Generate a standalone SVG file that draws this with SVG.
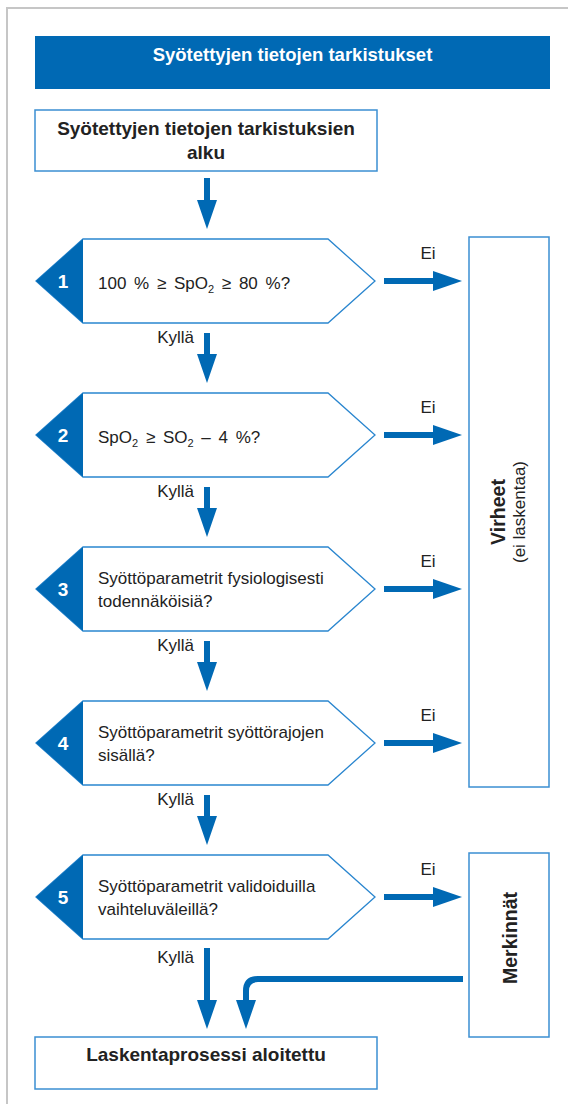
<svg xmlns="http://www.w3.org/2000/svg" width="568" height="1104" viewBox="0 0 568 1104">
<defs>
<style>
.frame{fill:none;stroke:#c6c6c6;stroke-width:2}
.box{fill:#fff;stroke:#3b8fd2;stroke-width:1.5}
.hex{fill:#fff;stroke:#2a86cf;stroke-width:1.3}
.tri{fill:#0069b4}
.t{font-family:"Liberation Sans",Arial,sans-serif;fill:#222}
.q{font-size:17px}
.ws{word-spacing:3px}
.b{font-weight:bold}
.num{font-family:"Liberation Sans",Arial,sans-serif;font-weight:bold;font-size:19px;fill:#fff;text-anchor:middle}
.lbl{font-family:"Liberation Sans",Arial,sans-serif;font-size:17px;fill:#222}
.conn{fill:none;stroke:#0069b4;stroke-width:6}
</style>
<marker id="ah" markerUnits="userSpaceOnUse" markerWidth="29" markerHeight="20" viewBox="0 0 29 20" refX="0" refY="10" orient="auto">
<path d="M0,0 L29,10 L0,20 Z" fill="#0069b4"/>
</marker>
</defs>
<rect width="568" height="1104" fill="#fff"/>
<path class="frame" d="M7,1104 V8 H568"/>

<g id="title">
<rect x="35" y="36" width="515" height="53" fill="#0069b4"/>
<text class="t b" x="292.5" y="61" font-size="18.5" style="fill:#fff" text-anchor="middle">Syötettyjen tietojen tarkistukset</text>
</g>

<g id="start">
<rect class="box" x="35" y="110" width="342" height="61"/>
<text class="t b" x="206" y="135" font-size="19" text-anchor="middle">Syötettyjen tietojen tarkistuksien</text>
<text class="t b" x="206" y="159" font-size="19" text-anchor="middle">alku</text>
</g>

<g id="check1">
<path class="hex" d="M36,281 L83,239 L328,239 L375,281 L328,323 L83,323 Z"/>
<path class="tri" d="M36,281 L83,239 L83,323 Z"/>
<text class="num" x="63" y="288">1</text>
<text class="t q ws" x="98" y="289">100 % ≥ SpO<tspan font-size="11" dy="4">2</tspan><tspan dy="-4"> ≥ 80 %?</tspan></text>
</g>

<g id="check2">
<path class="hex" d="M36,435 L83,393 L328,393 L375,435 L328,477 L83,477 Z"/>
<path class="tri" d="M36,435 L83,393 L83,477 Z"/>
<text class="num" x="63" y="442">2</text>
<text class="t q ws" x="98" y="443">SpO<tspan font-size="11" dy="4">2</tspan><tspan dy="-4"> ≥ SO</tspan><tspan font-size="11" dy="4">2</tspan><tspan dy="-4"> – 4 %?</tspan></text>
</g>

<g id="check3">
<path class="hex" d="M36,589 L83,547 L328,547 L375,589 L328,631 L83,631 Z"/>
<path class="tri" d="M36,589 L83,547 L83,631 Z"/>
<text class="num" x="63" y="596">3</text>
<text class="t q" x="98" y="584">Syöttöparametrit fysiologisesti</text>
<text class="t q" x="98" y="607">todennäköisiä?</text>
</g>

<g id="check4">
<path class="hex" d="M36,743 L83,701 L328,701 L375,743 L328,785 L83,785 Z"/>
<path class="tri" d="M36,743 L83,701 L83,785 Z"/>
<text class="num" x="63" y="750">4</text>
<text class="t q" x="98" y="738">Syöttöparametrit syöttörajojen</text>
<text class="t q" x="98" y="761">sisällä?</text>
</g>

<g id="check5">
<path class="hex" d="M36,897 L83,855 L328,855 L375,897 L328,939 L83,939 Z"/>
<path class="tri" d="M36,897 L83,855 L83,939 Z"/>
<text class="num" x="63" y="904">5</text>
<text class="t q" x="98" y="892">Syöttöparametrit validoiduilla</text>
<text class="t q" x="98" y="915">vaihteluväleillä?</text>
</g>

<g id="errors">
<rect class="box" x="469" y="237" width="80" height="550"/>
<text class="t b" font-size="19.5" text-anchor="middle" transform="translate(505,512) rotate(-90)">Virheet</text>
<text class="t" font-size="17" text-anchor="middle" transform="translate(525,512) rotate(-90)">(ei laskentaa)</text>
</g>

<g id="flags">
<rect class="box" x="469" y="853" width="80" height="184"/>
<text class="t b" font-size="19.5" text-anchor="middle" transform="translate(517,938) rotate(-90)">Merkinnät</text>
</g>

<g id="end">
<rect class="box" x="35" y="1037" width="342" height="52"/>
<text class="t b" x="206" y="1061" font-size="19" text-anchor="middle">Laskentaprosessi aloitettu</text>
</g>

<g id="connectors">
<line class="conn" x1="207" y1="178" x2="207" y2="200" marker-end="url(#ah)"/>
<line class="conn" x1="207" y1="333" x2="207" y2="354" marker-end="url(#ah)"/>
<line class="conn" x1="207" y1="487" x2="207" y2="508" marker-end="url(#ah)"/>
<line class="conn" x1="207" y1="641" x2="207" y2="662" marker-end="url(#ah)"/>
<line class="conn" x1="207" y1="795" x2="207" y2="816" marker-end="url(#ah)"/>
<line class="conn" x1="207" y1="948" x2="207" y2="1000" marker-end="url(#ah)"/>
<line class="conn" x1="384" y1="281" x2="433" y2="281" marker-end="url(#ah)"/>
<line class="conn" x1="384" y1="435" x2="433" y2="435" marker-end="url(#ah)"/>
<line class="conn" x1="384" y1="589" x2="433" y2="589" marker-end="url(#ah)"/>
<line class="conn" x1="384" y1="743" x2="433" y2="743" marker-end="url(#ah)"/>
<line class="conn" x1="384" y1="897" x2="433" y2="897" marker-end="url(#ah)"/>
<path class="conn" d="M463,979 H258 Q246,979 246,991 V1000" marker-end="url(#ah)"/>
<text class="lbl" x="194" y="343" text-anchor="end">Kyllä</text>
<text class="lbl" x="194" y="497" text-anchor="end">Kyllä</text>
<text class="lbl" x="194" y="651" text-anchor="end">Kyllä</text>
<text class="lbl" x="194" y="805" text-anchor="end">Kyllä</text>
<text class="lbl" x="194" y="963" text-anchor="end">Kyllä</text>
<text class="lbl" x="428" y="259" text-anchor="middle">Ei</text>
<text class="lbl" x="428" y="413" text-anchor="middle">Ei</text>
<text class="lbl" x="428" y="567" text-anchor="middle">Ei</text>
<text class="lbl" x="428" y="721" text-anchor="middle">Ei</text>
<text class="lbl" x="428" y="875" text-anchor="middle">Ei</text>
</g>
</svg>
